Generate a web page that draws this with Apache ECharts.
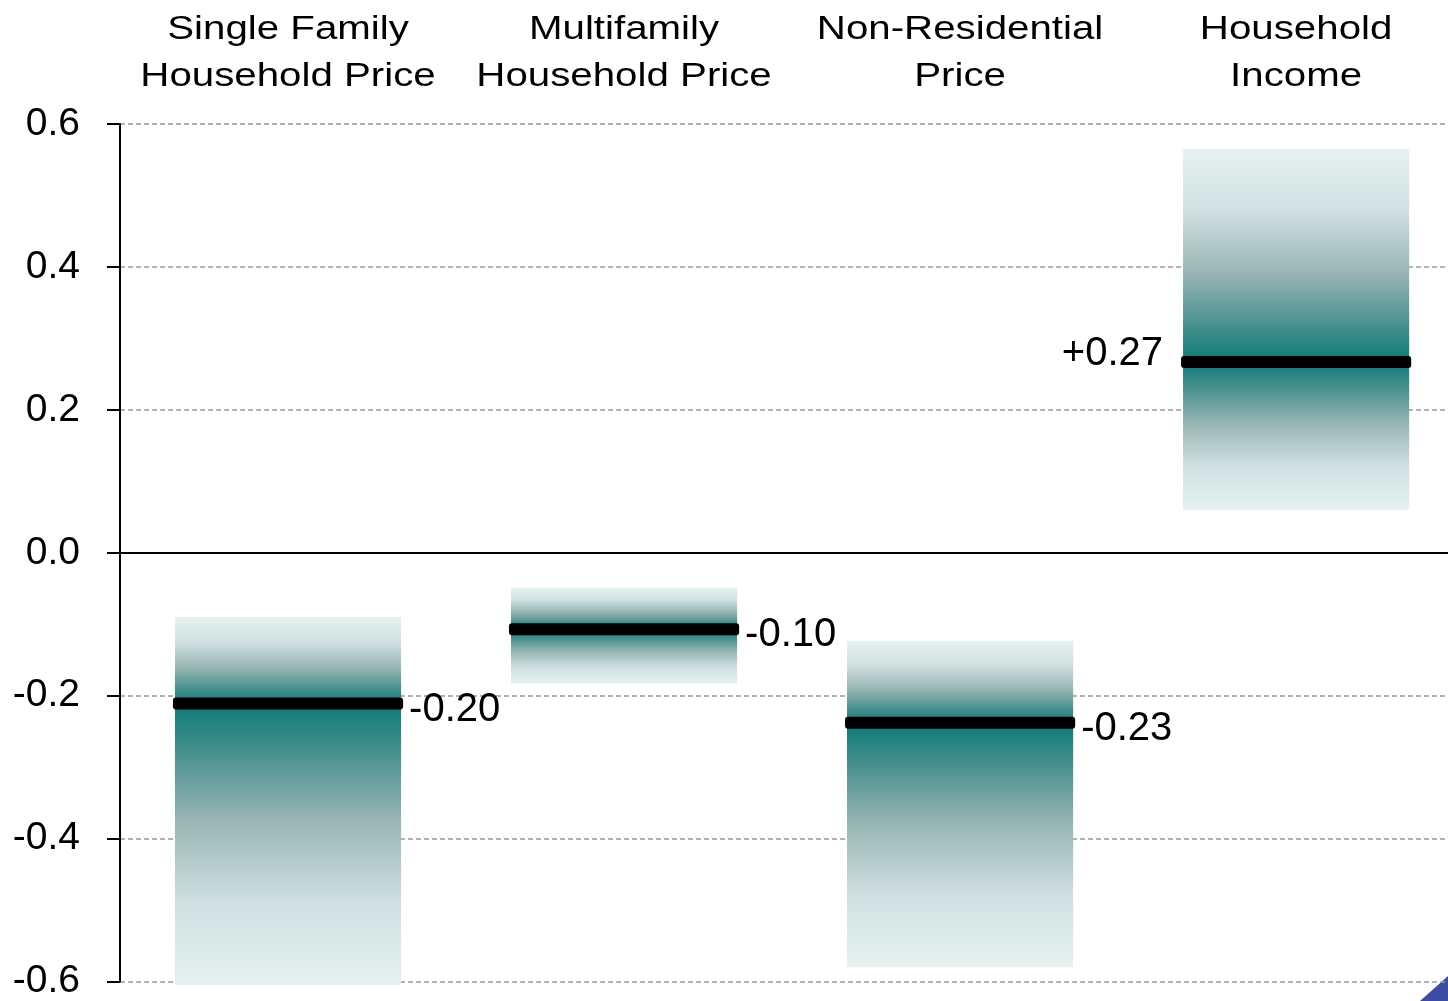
<!DOCTYPE html>
<html>
<head>
<meta charset="utf-8">
<script src="https://cdn.jsdelivr.net/npm/echarts@6/dist/echarts.min.js"></script>
<style>
  html, body { margin: 0; padding: 0; background: #fff; }
  #chart { width: 1448px; height: 1001px; }
</style>
</head>
<body>
<div id="chart"></div>
<script>
var categories = ['Single Family\nHousehold Price', 'Multifamily\nHousehold Price', 'Non-Residential\nPrice', 'Household\nIncome'];
var rangeLow = [-0.605, -0.183, -0.580, 0.060];
var rangeHigh = [-0.090, -0.049, -0.123, 0.565];
var centerValue = [-0.211, -0.107, -0.238, 0.267];
var valueLabels = ['-0.20', '-0.10', '-0.23', '+0.27'];
var labelSide = ['right', 'right', 'right', 'left'];

var FONT = "'Liberation Sans', Arial, sans-serif";

// colour ramp from pale edge (t=0) to dark centre line (t=1)
var ramp = [[0, '#e6f2f2'], [0.3, '#cfdfdf'], [0.6, '#94b3b2'], [0.85, '#3f8d8b'], [1, '#0e7a78']];

function fadeStops(f) {
    var stops = [];
    ramp.forEach(function (r) {
        stops.push({ offset: r[0] * f, color: r[1] });
    });
    for (var k = ramp.length - 1; k >= 0; k--) {
        stops.push({ offset: f + (1 - ramp[k][0]) * (1 - f), color: ramp[k][1] });
    }
    return stops;
}

function renderItem(params, api) {
    var i = api.value(0);
    var pBot = api.coord([i, api.value(1)]);
    var pTop = api.coord([i, api.value(2)]);
    var pMid = api.coord([i, api.value(3)]);
    var w = api.size([1, 0])[0] * 0.673;
    var x0 = pTop[0] - w / 2;
    var h = pBot[1] - pTop[1];
    var f = (pMid[1] - pTop[1]) / h;
    var side = labelSide[i];
    var topY = api.coord([i, 0.6])[1];

    return {
        type: 'group',
        children: [
            {
                type: 'rect',
                shape: { x: x0, y: pTop[1], width: w, height: h },
                style: { fill: new echarts.graphic.LinearGradient(0, 0, 0, 1, fadeStops(f)) }
            },
            {
                type: 'rect',
                shape: { x: x0 - 2, y: pMid[1] - 6, width: w + 4, height: 12, r: 3 },
                style: { fill: '#000' }
            },
            {
                type: 'text',
                x: side === 'right' ? x0 + w + 8 : x0 - 20,
                y: side === 'right' ? pMid[1] + 6 : pMid[1] - 8,
                style: {
                    text: valueLabels[i],
                    fill: '#000',
                    font: '40px ' + FONT,
                    align: side === 'right' ? 'left' : 'right',
                    verticalAlign: 'middle'
                }
            },
            {
                type: 'text',
                x: pTop[0],
                y: topY - 71,
                scaleX: 1.22,
                style: {
                    text: categories[i],
                    fill: '#000',
                    font: '33px ' + FONT,
                    align: 'center',
                    verticalAlign: 'middle',
                    lineHeight: 47
                }
            }
        ]
    };
}

var chart = echarts.init(document.getElementById('chart'));
chart.setOption({
    animation: false,
    backgroundColor: '#fff',
    grid: { left: 120, right: 0, top: 124, bottom: 19 },
    // categories sit at 0..3; the plot runs a little past the right edge of the page
    xAxis: {
        type: 'value',
        min: -0.5,
        max: 3.452,
        show: false
    },
    yAxis: {
        type: 'value',
        min: -0.6,
        max: 0.6,
        interval: 0.2,
        axisLine: { show: true, onZero: false, lineStyle: { color: '#000', width: 2 } },
        axisTick: { show: true, length: 13, lineStyle: { color: '#000', width: 2 } },
        axisLabel: {
            margin: 40,
            color: '#000',
            fontSize: 39,
            fontFamily: FONT,
            formatter: function (v) { return v.toFixed(1); }
        },
        splitLine: { show: true, lineStyle: { color: '#999', width: 1.5, type: [5, 3] } }
    },
    series: [{
        type: 'custom',
        renderItem: renderItem,
        encode: { x: 0, y: [1, 2, 3] },
        data: categories.map(function (c, i) {
            return [i, rangeLow[i], rangeHigh[i], centerValue[i]];
        }),
        markLine: {
            silent: true,
            symbol: 'none',
            label: { show: false },
            lineStyle: { color: '#000', width: 2, type: 'solid' },
            data: [{ yAxis: 0 }]
        }
    }],
    graphic: [{
        type: 'polygon',
        shape: { points: [[1420, 1001], [1448, 976], [1448, 1001]] },
        style: { fill: '#3b4ea3' }
    }]
});
</script>
</body>
</html>
